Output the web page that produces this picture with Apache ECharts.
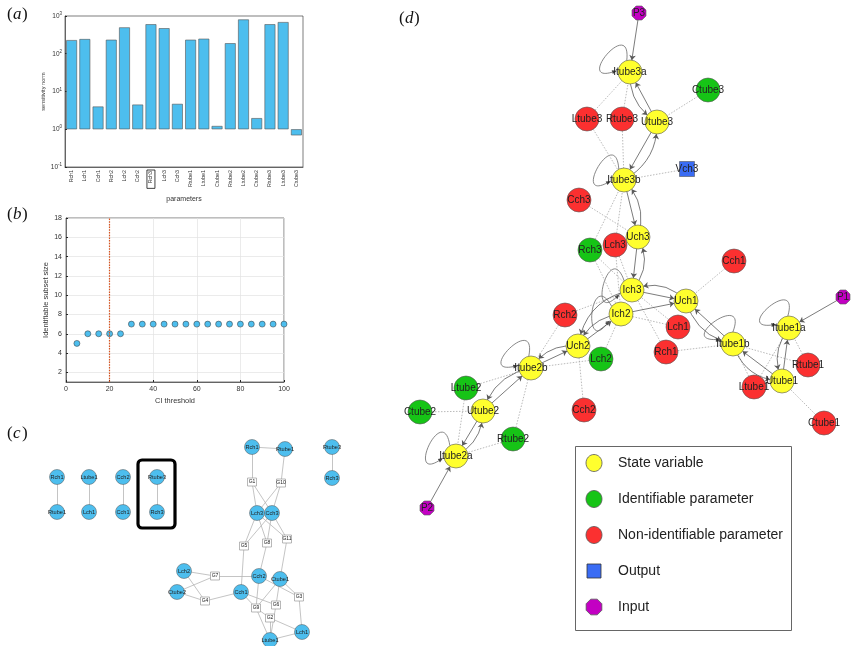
<!DOCTYPE html>
<html><head><meta charset="utf-8">
<script src="https://cdn.jsdelivr.net/npm/echarts@6/dist/echarts.min.js"></script>
<style>html,body{margin:0;padding:0;background:#fff}#c{width:851px;height:646px}</style>
</head><body><div id="c"></div>
<script>
// ---------- (a) sensitivity norms ----------
const barCategories = ['Rch1','Lch1','Cch1','Rch2','Lch2','Cch2','Rch3','Lch3','Cch3','Rtube1','Ltube1','Ctube1','Rtube2','Ltube2','Ctube2','Rtube3','Ltube3','Ctube3'];
const barValues = [230,245,4.0,235,500,4.5,605,475,4.7,235,250,1.22,190,810,1.97,605,690,0.69];
const highlightedParam = 'Rch3';

// ---------- (b) identifiable subset size ----------
const ciThresholds = [5,10,15,20,25,30,35,40,45,50,55,60,65,70,75,80,85,90,95,100];
const subsetSizes  = [5,6,6,6,6,7,7,7,7,7,7,7,7,7,7,7,7,7,7,7];
const ciCutoff = 20;
const subsetTicks = [2,4,6,8,10,12,14,16,18];

// ---------- (c) correlation graph: [id, label, x, y, kind] ----------
const cNodes = [
  ['Rch1_a','Rch1',57,477,'p'],['Rtube1_a','Rtube1',57,512,'p'],
  ['Ltube1_a','Ltube1',89,477,'p'],['Lch1_a','Lch1',89,512,'p'],
  ['Cch2_a','Cch2',123,477,'p'],['Cch1_a','Cch1',123,512,'p'],
  ['Rtube3_a','Rtube3',157,477,'p'],['Rch3_a','Rch3',157,512,'p'],
  ['Rch1','Rch1',252,447,'p'],['Rtube1','Rtube1',285,449,'p'],
  ['Rtube3_b','Rtube3',332,447,'p'],['Rch3_b','Rch3',332,478,'p'],
  ['G1','G1',252,482,'g'],['G10','G10',281,483,'g'],
  ['Lch3','Lch3',257,513,'p'],['Cch3','Cch3',272,513,'p'],
  ['G5','G5',244,546,'g'],['G8','G8',267,543,'g'],['G11','G11',287,539,'g'],
  ['Lch2','Lch2',184,571,'p'],['G7','G7',215,576,'g'],['Cch2','Cch2',259,576,'p'],
  ['Ctube1','Ctube1',280,579,'p'],['Ctube2','Ctube2',177,592,'p'],['Cch1','Cch1',241,592,'p'],
  ['G4','G4',205,601,'g'],['G3','G3',299,597,'g'],['G9','G9',256,608,'g'],
  ['G6','G6',276,605,'g'],['G2','G2',270,618,'g'],
  ['Lch1','Lch1',302,632,'p'],['Ltube1','Ltube1',270,640,'p']
];
const cEdges = [
  ['Rch1_a','Rtube1_a'],['Ltube1_a','Lch1_a'],['Cch2_a','Cch1_a'],['Rtube3_a','Rch3_a'],['Rtube3_b','Rch3_b'],
  ['Rch1','Rtube1'],['Rch1','G1'],['Rtube1','G10'],['G1','Lch3'],['G1','Cch3'],['G10','Lch3'],['G10','Cch3'],
  ['Lch3','G5'],['Cch3','G5'],['Lch3','G8'],['Cch3','G8'],['Lch3','G11'],['Cch3','G11'],
  ['G5','Cch1'],['G8','Cch2'],['G11','Ctube1'],
  ['Lch2','G7'],['Lch2','G4'],['Ctube2','G7'],['Ctube2','G4'],['G7','Cch2'],['G4','Cch1'],
  ['Cch1','G9'],['Cch1','G6'],['Cch2','G9'],['Cch2','G3'],['Ctube1','G9'],['Ctube1','G6'],['Ctube1','G3'],
  ['G3','Lch1'],['G9','Ltube1'],['G6','Ltube1'],['G9','G2'],['G2','Lch1'],['G2','Ltube1'],['Ltube1','Lch1']
];

// ---------- (d) model structure graph: [name, x, y, kind] ----------
const dNodes = [
  ['P3',639,13,'u'],['Itube3a',630,72,'s'],['Ctube3',708,90,'i'],
  ['Ltube3',587,119,'n'],['Rtube3',622,119,'n'],['Utube3',657,122,'s'],
  ['Itube3b',624,180,'s'],['Vch3',687,169,'o'],['Cch3',579,200,'n'],
  ['Uch3',638,237,'s'],['Lch3',615,245,'n'],['Rch3',590,250,'i'],['Cch1',734,261,'n'],
  ['Ich3',632,290,'s'],['Uch1',686,301,'s'],['Ich2',621,314,'s'],['Rch2',565,315,'n'],
  ['P1',843,297,'u'],['Itube1a',789,328,'s'],['Lch1',678,327,'n'],['Rch1',666,352,'n'],
  ['Itube1b',733,344,'s'],['Uch2',578,346,'s'],['Lch2',601,359,'i'],['Rtube1',808,365,'n'],
  ['Utube1',782,381,'s'],['Ltube1',754,387,'n'],['Itube2b',531,368,'s'],['Ltube2',466,388,'i'],
  ['Utube2',483,411,'s'],['Ctube2',420,412,'i'],['Cch2',584,410,'n'],['Ctube1',824,423,'n'],
  ['Rtube2',513,439,'i'],['Itube2a',456,456,'s'],['P2',427,508,'u']
];
const dParamLinks = [
  ['Ctube3','Utube3'],['Ltube3','Itube3a'],['Ltube3','Itube3b'],['Rtube3','Itube3a'],['Rtube3','Itube3b'],
  ['Vch3','Itube3b'],['Cch3','Uch3'],['Rch3','Itube3b'],['Lch3','Itube3b'],['Rch3','Ich2'],['Lch3','Ich2'],
  ['Rch3','Ich3'],['Lch3','Ich3'],['Cch1','Uch1'],['Rch2','Ich3'],['Rch2','Itube2b'],['Lch1','Ich2'],
  ['Lch1','Ich3'],['Rch1','Ich3'],['Rch1','Itube1b'],['Lch2','Ich2'],['Lch2','Itube2b'],['Cch2','Uch2'],
  ['Rtube1','Itube1a'],['Rtube1','Itube1b'],['Ltube1','Itube1a'],['Ltube1','Itube1b'],['Ctube1','Utube1'],
  ['Ltube2','Itube2b'],['Ltube2','Itube2a'],['Rtube2','Itube2b'],['Rtube2','Itube2a'],['Ctube2','Utube2']
];
const dStateLinks = [
  ['P3','Itube3a',0],['Itube3a','Utube3',-0.3],['Utube3','Itube3a',0],
  ['Utube3','Itube3b',0],['Itube3b','Utube3',-0.3],
  ['Itube3b','Uch3',0],['Uch3','Itube3b',-0.3],
  ['Uch3','Ich3',0],['Ich3','Uch3',-0.35],
  ['Ich3','Uch1',0],['Uch1','Ich3',-0.35],['Ich2','Uch1',0],
  ['Uch2','Ich2',0],['Ich2','Uch2',-0.3],['Ich3','Uch2',-0.35],
  ['Uch2','Itube2b',-0.3],['Itube2b','Uch2',0],
  ['Itube2b','Utube2',-0.3],['Utube2','Itube2b',0],
  ['Utube2','Itube2a',0],['Itube2a','Utube2',-0.3],['P2','Itube2a',0],
  ['Uch1','Itube1b',-0.3],['Itube1b','Uch1',0],
  ['Itube1b','Utube1',-0.35],['Utube1','Itube1b',0],
  ['Utube1','Itube1a',0],['Itube1a','Utube1',-0.3],['P1','Itube1a',0]
];
const dSelfLoops = [['Itube3a',140],['Itube3b',150],['Ich3',165],['Ich2',175],['Itube2b',135],['Itube2a',155],['Itube1a',130],['Itube1b',125]];

const legendItems = [['State variable','s'],['Identifiable parameter','i'],['Non-identifiable parameter','n'],['Output','o'],['Input','u']];

// ---------- styles ----------
const OCT = 'path://M29.3,0L70.7,0L100,29.3L100,70.7L70.7,100L29.3,100L0,70.7L0,29.3Z';
const kindStyle = {
  s:{color:'#ffff2e',symbol:'circle',size:24},
  i:{color:'#16c416',symbol:'circle',size:24},
  n:{color:'#fb3030',symbol:'circle',size:24},
  o:{color:'#3a6cf4',symbol:'rect',size:15},
  u:{color:'#c300c3',symbol:OCT,size:14}
};
const BLUE = '#4dbeee';

const chart = echarts.init(document.getElementById('c'), null, {renderer:'canvas'});

const cData = cNodes.map(([id,label,x,y,k]) => ({
  name:id, value:[x,y],
  symbol: k==='g' ? 'rect' : 'circle',
  symbolSize: k==='g' ? [9,8] : 15,
  itemStyle: k==='g' ? {color:'#fff',borderColor:'#999',borderWidth:0.7} : {color:BLUE,borderColor:'#555',borderWidth:0.5},
  label:{show:true,position:'inside',formatter:label,fontSize:k==='g'?5:5.6,color:'#222',fontFamily:'Liberation Sans'}
}));
const cLinks = cEdges.map(([s,t]) => ({source:s,target:t}));

const dPos = {};
dNodes.forEach(([n,x,y]) => { dPos[n]=[x,y]; });
const dData = dNodes.map(([n,x,y,k]) => ({
  name:n, value:[x,y], symbol:kindStyle[k].symbol, symbolSize:kindStyle[k].size,
  itemStyle:{color:kindStyle[k].color,borderColor:'#555',borderWidth:0.6}
}));
const dLinks = dParamLinks.map(([s,t]) => ({source:s,target:t,symbol:['none','none'],lineStyle:{type:[1.5,1.5],color:'#a8a8a8',width:0.8,curveness:0}}))
  .concat(dStateLinks.map(([s,t,c]) => ({source:s,target:t,lineStyle:{type:'solid',color:'#5a5a5a',width:0.8,curveness:c}})));
const loopData = dSelfLoops.map(([n,dir]) => [dPos[n][0], dPos[n][1], dir]);

const graphics = [];
[['a',7,6],['b',7,206],['c',7,425],['d',399,10]].forEach(([l,x,y]) => {
  graphics.push({type:'text', x:x, y:y, style:{text:'(', font:'17px "Liberation Serif"', fill:'#111'}});
  graphics.push({type:'text', x:x+6, y:y, style:{text:l, font:'italic 17px "Liberation Serif"', fill:'#111'}});
  graphics.push({type:'text', x:x+15, y:y, style:{text:')', font:'17px "Liberation Serif"', fill:'#111'}});
});
graphics.push({type:'rect', shape:{x:138,y:460,width:37,height:68,r:4}, style:{fill:'none',stroke:'#000',lineWidth:3.2}});
graphics.push({type:'rect', shape:{x:575.5,y:446.5,width:216,height:184}, style:{fill:'#fff',stroke:'#666',lineWidth:1}, z:10});
legendItems.forEach(([txt,k],i) => {
  const cy = 463 + i*36;
  const st = kindStyle[k];
  let shape;
  if (k==='o') shape = {type:'rect', shape:{x:587,y:cy-7,width:14,height:14}, style:{fill:st.color,stroke:'#333',lineWidth:0.8}};
  else if (k==='u') { const r=8.5, pts=[]; for(let j=0;j<8;j++){const a=Math.PI/8+j*Math.PI/4; pts.push([594+r*Math.cos(a), cy+r*Math.sin(a)]);} shape={type:'polygon',shape:{points:pts},style:{fill:st.color,stroke:'#555',lineWidth:0.8}}; }
  else shape = {type:'ellipse', shape:{cx:594,cy:cy,rx:8,ry:8.5}, style:{fill:st.color,stroke:'#555',lineWidth:0.8}};
  shape.z = 11;
  graphics.push(shape);
  graphics.push({type:'text', x:618, y:cy, z:11, style:{text:txt, font:'14px "Liberation Sans"', fill:'#222', verticalAlign:'middle'}});
});

const option = {
  animation:false,
  backgroundColor:'#fff',
  grid:[
    {left:65,top:16,width:238,height:151,show:true,borderColor:'#262626',borderWidth:0.6,backgroundColor:'transparent',outerBoundsMode:'none'},
    {left:66,top:218,width:218,height:164,show:true,borderColor:'#262626',borderWidth:0.6,backgroundColor:'transparent',outerBoundsMode:'none'},
    {left:0,top:0,width:851,height:646,outerBoundsMode:'none'}
  ],
  xAxis:[
    {gridIndex:0,type:'category',data:barCategories,
     axisLine:{lineStyle:{color:'#262626',width:0.6}},axisTick:{inside:true,length:2,alignWithLabel:true,lineStyle:{color:'#262626',width:0.6}},
     axisLabel:{rotate:90,fontSize:5.3,color:'#333',margin:3,fontFamily:'Liberation Sans',interval:0,
       formatter:v => v===highlightedParam ? '{box|'+v+'}' : v,
       rich:{box:{fontSize:5.3,color:'#333',borderColor:'#111',borderWidth:0.8,padding:[1.5,1,1.5,5]}}},
     name:'parameters',nameLocation:'middle',nameGap:29,nameTextStyle:{fontSize:7,color:'#333',fontFamily:'Liberation Sans'}},
    {gridIndex:1,type:'value',min:0,max:100,interval:20,
     axisLine:{lineStyle:{color:'#262626',width:0.6}},axisTick:{inside:true,length:2,lineStyle:{color:'#262626'}},
     splitLine:{show:true,lineStyle:{color:'#e3e3e3',width:0.7}},
     axisLabel:{fontSize:7,color:'#333',margin:4,fontFamily:'Liberation Sans'},
     name:'CI threshold',nameLocation:'middle',nameGap:15,nameTextStyle:{fontSize:7.4,color:'#333',fontFamily:'Liberation Sans'}},
    {gridIndex:2,type:'value',min:0,max:851,show:false}
  ],
  yAxis:[
    {gridIndex:0,type:'log',logBase:10,min:0.1,max:1000,
     axisLine:{show:true,lineStyle:{color:'#262626',width:0.6}},axisTick:{show:true,inside:true,length:2,lineStyle:{color:'#262626'}},
     splitLine:{show:false},
     axisLabel:{fontFamily:'Liberation Sans',margin:3,formatter:v => '{b|10}{s|'+Math.round(Math.log10(v))+'}',
       rich:{b:{fontSize:6.5,color:'#333',fontFamily:'Liberation Sans'},s:{fontSize:4.5,color:'#333',verticalAlign:'top',padding:[0,0,4,0],fontFamily:'Liberation Sans'}}},
     name:'sensitivity norm',nameLocation:'middle',nameGap:15,nameRotate:90,nameTextStyle:{fontSize:5.6,color:'#333',fontFamily:'Liberation Sans'}},
    {gridIndex:1,type:'value',min:1,max:18,
     axisLine:{show:true,lineStyle:{color:'#262626',width:0.6}},
     axisTick:{show:true,inside:true,length:2,customValues:subsetTicks,lineStyle:{color:'#262626'}},
     splitLine:{show:true,customValues:subsetTicks,lineStyle:{color:'#e3e3e3',width:0.7}},
     axisLabel:{fontSize:7,color:'#333',margin:4,customValues:subsetTicks,fontFamily:'Liberation Sans'},
     name:'Identifiable subset size',nameLocation:'middle',nameGap:15,nameRotate:90,nameTextStyle:{fontSize:7.5,color:'#333',fontFamily:'Liberation Sans'}},
    {gridIndex:2,type:'value',min:0,max:646,inverse:true,show:false}
  ],
  graphic:graphics,
  series:[
    {type:'bar',xAxisIndex:0,yAxisIndex:0,data:barValues,barCategoryGap:'18%',
     itemStyle:{color:BLUE,borderColor:'#555',borderWidth:0.6}},
    {type:'scatter',xAxisIndex:1,yAxisIndex:1,data:ciThresholds.map((x,i)=>[x,subsetSizes[i]]),
     symbolSize:6,itemStyle:{color:BLUE,borderColor:'#333',borderWidth:0.5,opacity:1},
     markLine:{silent:true,symbol:'none',label:{show:false},lineStyle:{type:[1.5,1.2],color:'#d9531e',width:1.2},data:[{xAxis:ciCutoff}]}},
    {type:'graph',coordinateSystem:'cartesian2d',xAxisIndex:2,yAxisIndex:2,layout:'none',
     data:cData,links:cLinks,z:3,
     lineStyle:{color:'#b5b5b5',width:0.8,opacity:1,curveness:0}},
    {type:'custom',coordinateSystem:'cartesian2d',xAxisIndex:2,yAxisIndex:2,data:loopData,z:2,silent:true,
     renderItem:function(params, api){
       const p = api.coord([api.value(0), api.value(1)]);
       const dir = api.value(2)*Math.PI/180;
       const r = 12, L = 56, th = 0.9;
       const pt = (a,d) => [p[0]+d*Math.cos(a), p[1]-d*Math.sin(a)];
       const s = pt(dir-0.6, r), e = pt(dir+0.6, r+1);
       const c1 = pt(dir-th, L), c2 = pt(dir+th, L);
       let dx = e[0]-c2[0], dy = e[1]-c2[1]; const dl = Math.hypot(dx,dy); dx/=dl; dy/=dl;
       const b = [e[0]-dx*5, e[1]-dy*5];
       return {type:'group', children:[
         {type:'bezierCurve', shape:{x1:s[0],y1:s[1],x2:b[0],y2:b[1],cpx1:c1[0],cpy1:c1[1],cpx2:c2[0],cpy2:c2[1]}, style:{fill:'none',stroke:'#6a6a6a',lineWidth:0.8}},
         {type:'polygon', shape:{points:[e,[b[0]-dy*2,b[1]+dx*2],[b[0]+dy*2,b[1]-dx*2]]}, style:{fill:'#444'}}
       ]};
     }},
    {type:'graph',coordinateSystem:'cartesian2d',xAxisIndex:2,yAxisIndex:2,layout:'none',
     data:dData,links:dLinks,z:4,
     edgeSymbol:['none','arrow'],edgeSymbolSize:[0,5],
     label:{show:true,position:'inside',fontSize:10,color:'#222',fontFamily:'Liberation Sans'},
     lineStyle:{color:'#5a5a5a',width:0.8,opacity:1}}
  ]
};
chart.setOption(option);
</script></body></html>
